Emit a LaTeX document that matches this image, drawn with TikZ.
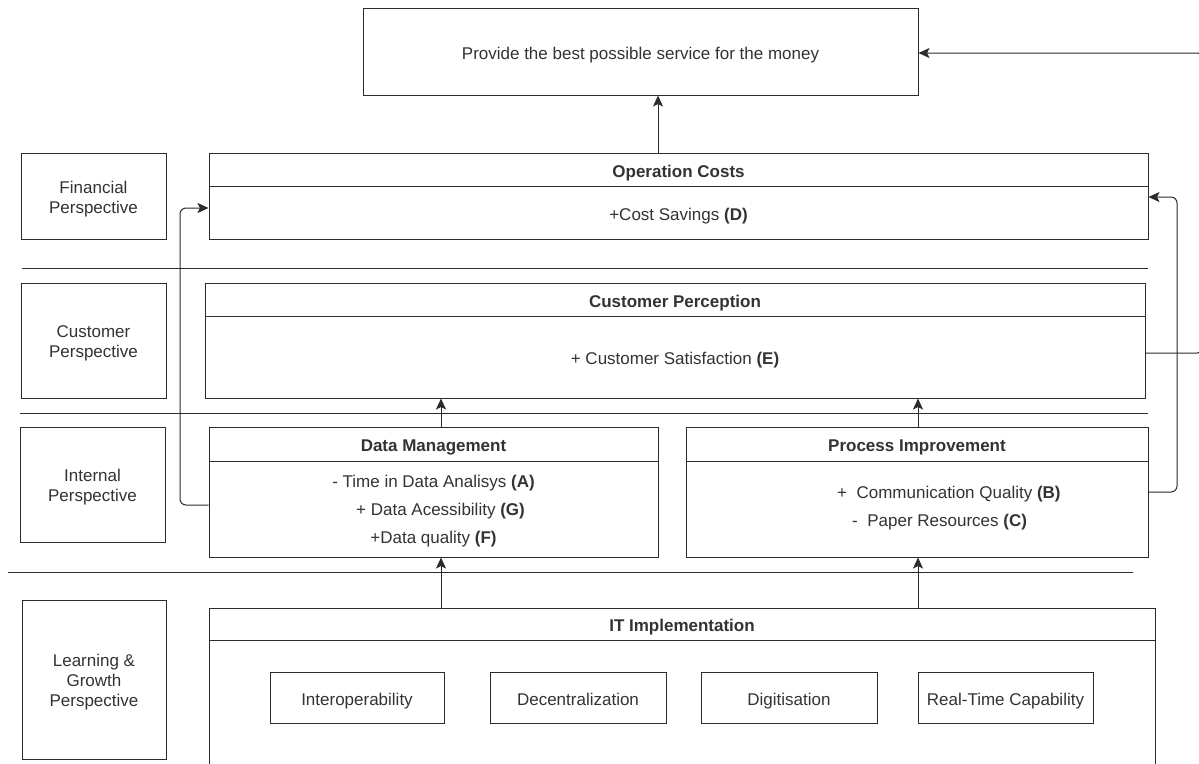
\documentclass[tikz,border=0pt]{standalone}
\usepackage{fontspec}
\setmainfont{Liberation Sans}
\usetikzlibrary{arrows.meta,calc}
\definecolor{linec}{HTML}{2B2B2B}
\definecolor{textc}{HTML}{333333}
\tikzset{
  box/.style={draw=linec, line width=1pt, inner sep=0pt},
  txt/.style={text=textc, align=center, inner sep=0pt, yshift=-3pt},
  txtone/.style={txt, text height=12.4pt, text depth=3.6pt, yshift=-0.5pt},
  arr/.style={draw=linec, line width=1pt, -{Stealth[length=11pt,width=10pt,inset=2.5pt]}},
  sepline/.style={draw=linec, line width=1pt},
  every node/.style={font=\fontsize{17}{20}\selectfont}
}
% box from (x1,y1) to (x2,y2) with a single-line text
\newcommand\mkbox[6]{%
  \node[box, minimum width={#4pt-#2pt}, minimum height={#5pt-#3pt}] (#1) at ({(#2+#4)/2},{(#3+#5)/2}) {};
  \node[txtone] (#1-t) at (#1.center) {#6};}
% box with multi-line text
\newcommand\mkboxm[6]{%
  \node[box, minimum width={#4pt-#2pt}, minimum height={#5pt-#3pt}] (#1) at ({(#2+#4)/2},{(#3+#5)/2}) {};
  \node[txt] (#1-t) at (#1.center) {#6};}
\begin{document}
\begin{tikzpicture}[x=1pt,y=-1pt]
\clip (0,0) rectangle (1199,763);
\fill[white] (0,0) rectangle (1199,763);
% top goal
\mkbox{top}{363}{8}{918}{95}{Provide the best possible service for the money}
% perspectives
\mkboxm{finP}{21}{153}{166}{239}{Financial\\Perspective}
\mkboxm{cusP}{21}{283}{166}{398}{Customer\\Perspective}
\mkboxm{intP}{20}{427}{165}{542}{Internal\\Perspective}
\mkboxm{lgP}{22}{600}{166}{759}{Learning \&\\Growth\\Perspective}
% operation costs
\mkbox{opH}{209}{153}{1148}{186}{\textbf{Operation Costs}}
\mkbox{opB}{209}{186}{1148}{239}{+Cost Savings \textbf{(D)}}
% customer perception
\mkbox{cpH}{205}{283}{1145}{316}{\textbf{Customer Perception}}
\mkbox{cpB}{205}{316}{1145}{398}{+ Customer Satisfaction \textbf{(E)}}
% data management
\mkbox{dmH}{209}{427}{658}{461}{\textbf{Data Management}}
\mkboxm{dmB}{209}{461}{658}{557}{}
\node[txt, font=\fontsize{17}{28}\selectfont, yshift=1pt] (dmB-t) at (dmB.center)
  {- Time in Data Analisys \textbf{(A)}\\\hspace{14pt}+ Data Acessibility \textbf{(G)}\\+Data quality \textbf{(F)}};
% process improvement
\mkbox{piH}{686}{427}{1148}{461}{\textbf{Process Improvement}}
\mkbox{piB}{686}{461}{1148}{557}{}
\node[anchor=west, inner sep=0pt, text=textc, text height=12.4pt, text depth=3.6pt] (piT1) at (837,494) {+\ \ Communication Quality \textbf{(B)}};
\node[anchor=west, inner sep=0pt, text=textc, text height=12.4pt, text depth=3.6pt] (piT2) at (852,522) {-\ \ Paper Resources \textbf{(C)}};
% IT implementation
\mkbox{itH}{209}{608}{1155}{640}{\textbf{IT Implementation}}
\mkbox{itB}{209}{640}{1155}{800}{}
\mkbox{io}{270}{672}{444}{723}{Interoperability}
\mkbox{dc}{490}{672}{666}{723}{Decentralization}
\mkbox{dg}{701}{672}{877}{723}{Digitisation}
\mkbox{rt}{918}{672}{1093}{723}{Real-Time Capability}
% separator lines
\draw[sepline] (22,268) -- (1148,268);
\draw[sepline] (20,413) -- (1148,413);
\draw[sepline] (8,572) -- (1133,572);
% helper coordinates
\coordinate (xa) at (658,0);
\coordinate (xl) at (441,0);
\coordinate (xr) at (918,0);
\coordinate (rx) at (1203,353);
\coordinate (r2) at (1177,492);
\coordinate (r2t) at (1177,197);
\coordinate (l1) at (180,505);
\coordinate (l1t) at (180,208);
% connectors
\draw[arr] (opH.north -| xa) -- (top.south -| xa);
\draw[arr] (dmH.north -| xl) -- (cpB.south -| xl);
\draw[arr] (piH.north -| xr) -- (cpB.south -| xr);
\draw[arr] (itH.north -| xl) -- (dmB.south -| xl);
\draw[arr] (itH.north -| xr) -- (piB.south -| xr);
\draw[arr, rounded corners=6pt] (cpB.east |- rx) -- (rx) -- (rx |- 0,53) -- (top.east |- 0,53);
\draw[arr, rounded corners=6pt] (piB.east |- r2) -- (r2) -- (r2t) -- (opB.east |- r2t);
\draw[arr, rounded corners=6pt] (dmB.west |- l1) -- (l1) -- (l1t) -- (opB.west |- l1t);
\end{tikzpicture}
\end{document}
